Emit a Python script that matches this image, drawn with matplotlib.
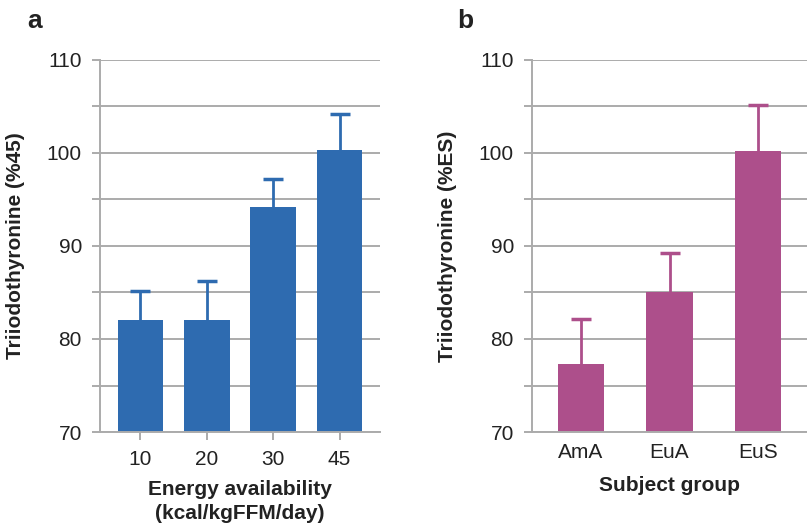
import matplotlib
matplotlib.use("Agg")
import matplotlib.pyplot as plt
import numpy as np

plt.rcParams['font.family'] = ['Liberation Sans', 'DejaVu Sans']

# Panel a data
energy_labels = ["10", "20", "30", "45"]
energy_means = [82.0, 82.0, 94.2, 100.3]
energy_err = [3.2, 4.2, 3.0, 3.9]

# Panel b data
group_labels = ["AmA", "EuA", "EuS"]
group_means = [77.3, 85.1, 100.2]
group_err = [4.8, 4.1, 5.0]

blue = "#2E6BB0"
magenta = "#AD4F8B"
grid_col = "#ABABAB"
text_col = "#222222"

fig = plt.figure(figsize=(8.07, 5.28), dpi=100)
W, H = 807, 528

def make_ax(l, r, t, b):
    return fig.add_axes([l / W, 1 - b / H, (r - l) / W, (b - t) / H])

axa = make_ax(100, 380, 60, 432)
axb = make_ax(532, 807, 60, 432)

def style(ax, n, margin):
    ax.set_ylim(70, 110)
    ax.set_yticks(np.arange(70, 111, 5))
    ax.set_yticklabels([str(v) if v % 10 == 0 else "" for v in range(70, 111, 5)])
    ax.set_xlim(-margin, n - 1 + margin)
    ax.yaxis.grid(True, color=grid_col, linewidth=1.4)
    ax.set_axisbelow(True)
    for s in ["top", "right"]:
        ax.spines[s].set_visible(False)
    for s in ["left", "bottom"]:
        ax.spines[s].set_color(grid_col)
        ax.spines[s].set_linewidth(1.4)
    ax.tick_params(axis="both", colors=grid_col, labelcolor=text_col,
                   labelsize=15, length=6, width=1.4, pad=7)

def upper_err(ax, x, means, errs, color):
    _, caps, _ = ax.errorbar(x, means, yerr=[np.zeros(len(x)), errs], fmt="none",
                             ecolor=color, elinewidth=2, capsize=7.5,
                             capthick=2.5, zorder=3)
    caps[0].set_visible(False)

xa = np.arange(len(energy_labels))
axa.bar(xa, energy_means, width=0.69, color=blue, zorder=2)
upper_err(axa, xa, energy_means, energy_err, blue)
style(axa, len(xa), 0.61)
axa.set_xticks(xa)
axa.set_xticklabels(energy_labels)
axa.set_xlabel("Energy availability\n(kcal/kgFFM/day)", fontsize=15,
               fontweight="bold", color=text_col, labelpad=8, linespacing=1.3)
axa.set_ylabel("Triiodothyronine (%45)", fontsize=15, fontweight="bold",
               color=text_col, labelpad=16)

xb = np.arange(len(group_labels))
axb.bar(xb, group_means, width=0.52, color=magenta, zorder=2)
upper_err(axb, xb, group_means, group_err, magenta)
style(axb, len(xb), 0.55)
axb.set_xticks(xb)
axb.set_xticklabels(group_labels)
axb.tick_params(axis="x", length=0, pad=8)
axb.set_xlabel("Subject group", fontsize=15, fontweight="bold",
               color=text_col, labelpad=10)
axb.set_ylabel("Triiodothyronine (%ES)", fontsize=15, fontweight="bold",
               color=text_col, labelpad=16)

fig.text(27 / W, 1 - 28 / H, "a", fontsize=19, fontweight="bold", color=text_col)
fig.text(457 / W, 1 - 28 / H, "b", fontsize=19, fontweight="bold", color=text_col)

fig.savefig("out.png", dpi=100)
